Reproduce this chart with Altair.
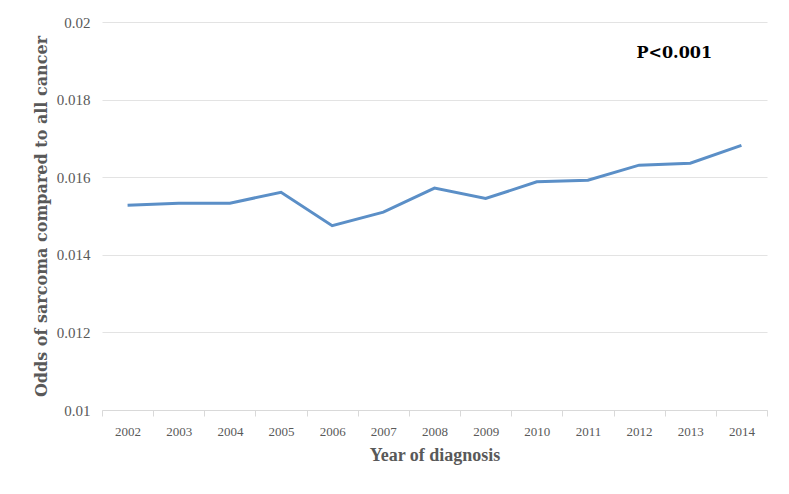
import altair as alt
import pandas as pd

years = ["2002", "2003", "2004", "2005", "2006", "2007", "2008", "2009",
         "2010", "2011", "2012", "2013", "2014"]
odds = [0.01528, 0.01533, 0.01533, 0.01561, 0.01475, 0.01510, 0.01572,
        0.01545, 0.01588, 0.01592, 0.01631, 0.01636, 0.01682]

df = pd.DataFrame({"year": years, "odds": odds})

SERIF = "Liberation Serif"
WIDE = "DejaVu Serif"

x = alt.X("year:O", title="Year of diagnosis",
          scale=alt.Scale(type="band", paddingInner=0, paddingOuter=0),
          axis=alt.Axis(labelAngle=0, tickBand="extent", tickSize=6,
                        tickColor="#d9d9d9", domainColor="#d9d9d9",
                        labelPadding=9, labelFontSize=13, labelColor="#595959",
                        labelFont=SERIF, titleFont=SERIF, titleFontSize=18,
                        titleFontWeight="bold", titleColor="#595959",
                        titlePadding=8, grid=False))
y = alt.Y("odds:Q", title="Odds of sarcoma compared to all cancer",
          scale=alt.Scale(domain=[0.01, 0.02], nice=False, zero=False),
          axis=alt.Axis(values=[0.01, 0.012, 0.014, 0.016, 0.018, 0.02],
                        format="~g", domain=False, ticks=False,
                        labelPadding=12, labelFontSize=15, labelColor="#595959",
                        labelFont=SERIF, titleFont=WIDE, titleFontSize=16,
                        titleFontWeight="bold", titleColor="#595959",
                        titlePadding=7, gridColor="#e3e3e3", gridWidth=1.2))

line = alt.Chart(df).mark_line(color="#5B8FC7", strokeWidth=3).encode(x=x, y=y)

note = alt.Chart(pd.DataFrame({"t": ["P<0.001"]})).mark_text(
    font=WIDE, fontSize=16, fontWeight="bold", color="#000000", dx=-16
).encode(x=alt.datum("2013"), y=alt.datum(0.0192), text="t:N")

chart = alt.layer(line, note).properties(
    width=665, height=388,
    padding={"left": 25, "top": 7, "right": 5, "bottom": 5},
).configure_view(stroke=None)

chart.save("out.html", embed_options={"renderer": "svg", "actions": False})
